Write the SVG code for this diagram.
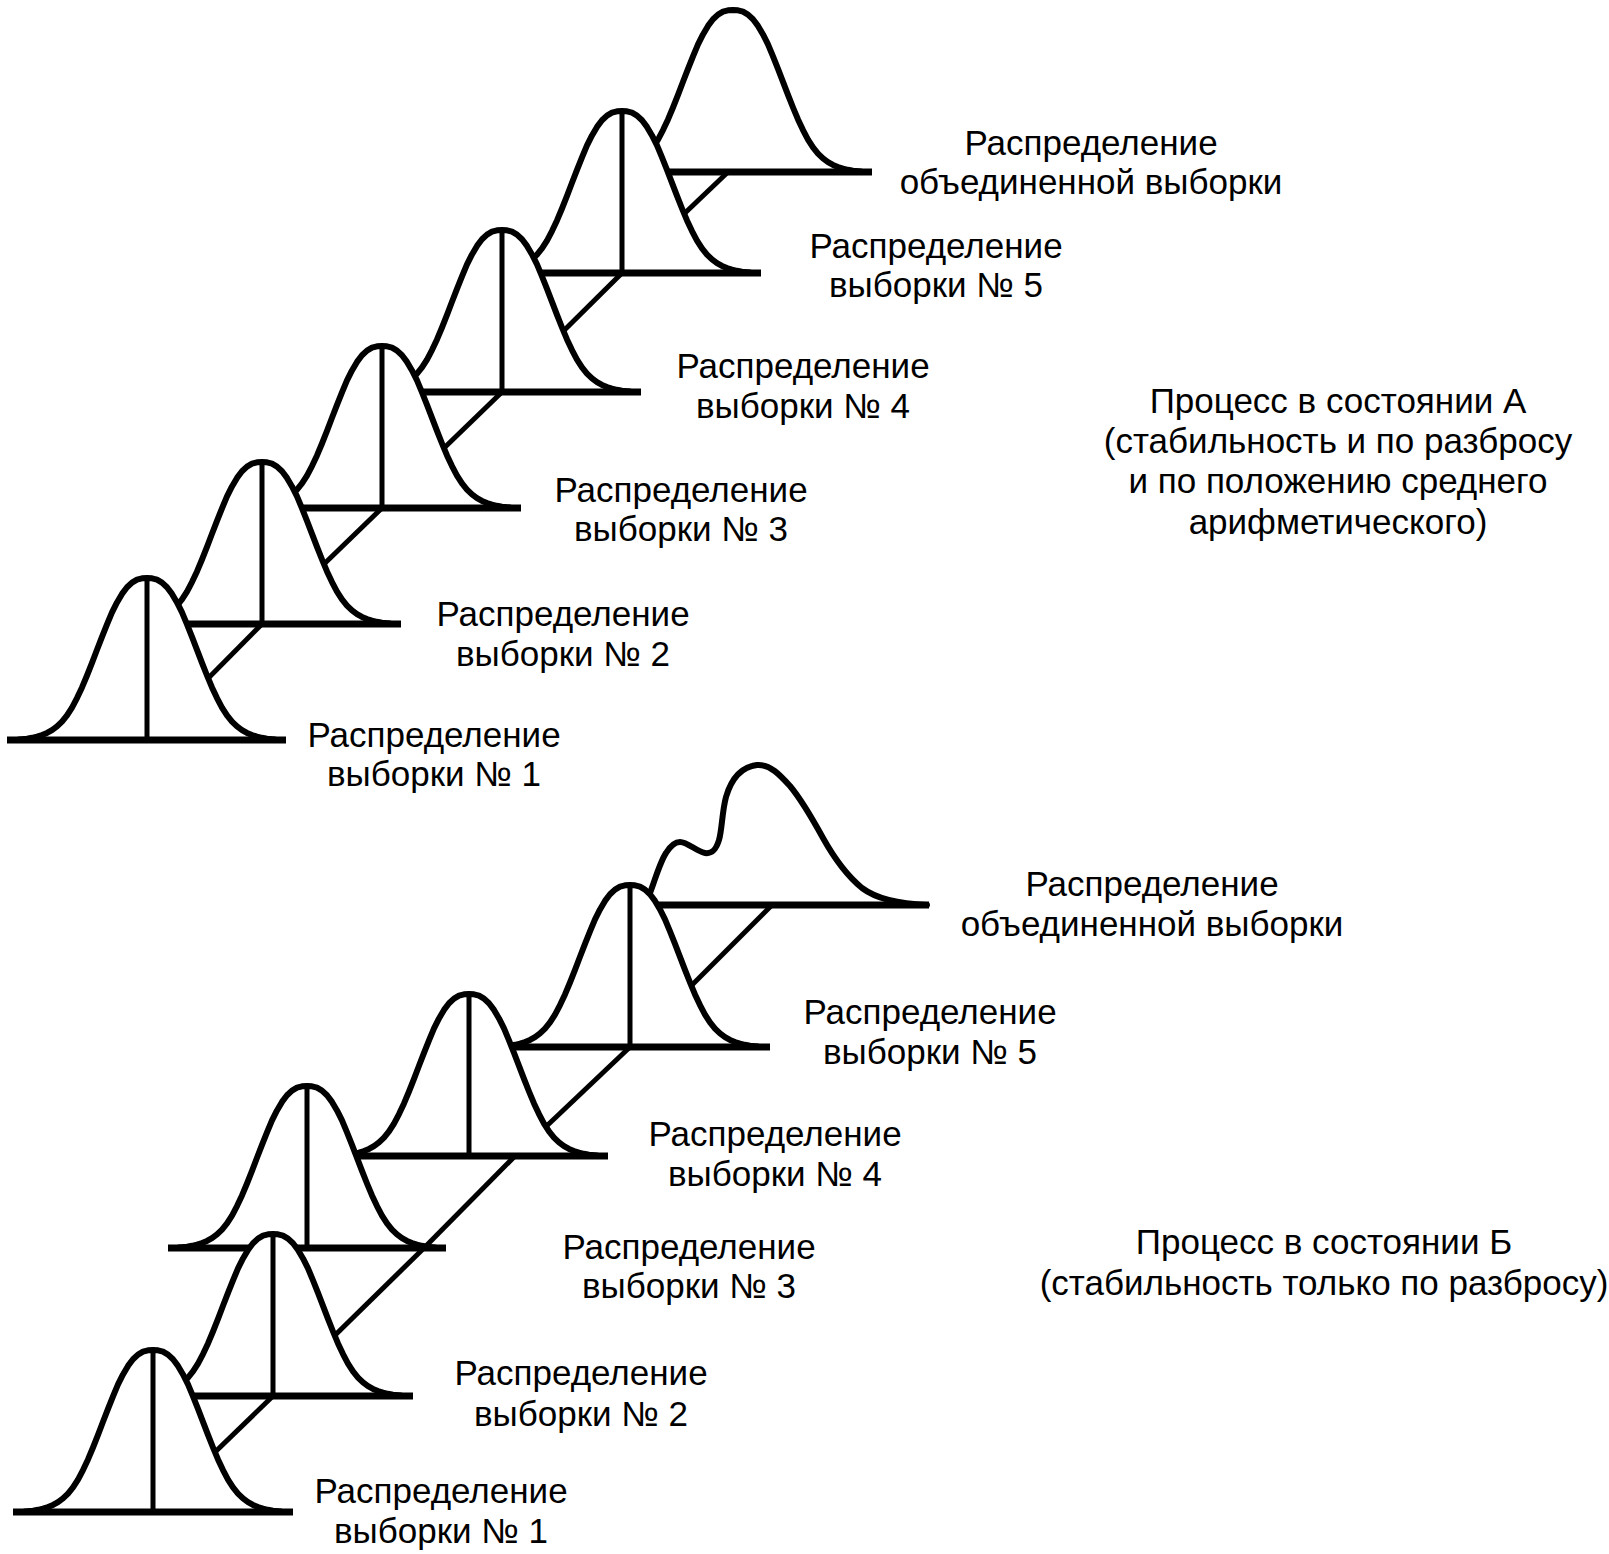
<svg xmlns="http://www.w3.org/2000/svg" width="1609" height="1554" viewBox="0 0 1609 1554">
<style>
.fill{fill:#fff;stroke:none}
.curve{fill:none;stroke:#000;stroke-width:6;stroke-linejoin:round;stroke-linecap:round}
.base{stroke:#000;stroke-width:7}
.vert{stroke:#000;stroke-width:5}
#connectors line{stroke:#000;stroke-width:5}
text{font-family:"Liberation Sans",Arial,sans-serif;font-size:35px;fill:#000;text-anchor:middle}
</style>
<defs>
<path id="bell" d="M-128,-0.4 L-120,-1.3 L-115,-2.2 L-110,-3.4 L-105,-5 L-100,-7.1 L-95,-9.9 L-90,-13.6 L-85,-18.4 L-80,-24.6 L-75,-32.4 L-70,-41.9 L-65,-52.6 L-60,-64.5 L-55,-77.1 L-50,-90.2 L-45,-103.2 L-40,-115.7 L-35,-127.6 L-30,-137.6 L-25,-146.1 L-20,-152.7 L-15,-157.4 L-10,-160.3 L-5,-161.7 L0,-162 L5,-161.7 L10,-160.3 L15,-157.4 L20,-152.7 L25,-146.1 L30,-137.6 L35,-127.6 L40,-115.7 L45,-103.2 L50,-90.2 L55,-77.1 L60,-64.5 L65,-52.6 L70,-41.9 L75,-32.4 L80,-24.6 L85,-18.4 L90,-13.6 L95,-9.9 L100,-7.1 L105,-5 L110,-3.4 L115,-2.2 L120,-1.3 L128,-0.4"/>
<path id="bellFill" d="M-128,-0.4 L-120,-1.3 L-115,-2.2 L-110,-3.4 L-105,-5 L-100,-7.1 L-95,-9.9 L-90,-13.6 L-85,-18.4 L-80,-24.6 L-75,-32.4 L-70,-41.9 L-65,-52.6 L-60,-64.5 L-55,-77.1 L-50,-90.2 L-45,-103.2 L-40,-115.7 L-35,-127.6 L-30,-137.6 L-25,-146.1 L-20,-152.7 L-15,-157.4 L-10,-160.3 L-5,-161.7 L0,-162 L5,-161.7 L10,-160.3 L15,-157.4 L20,-152.7 L25,-146.1 L30,-137.6 L35,-127.6 L40,-115.7 L45,-103.2 L50,-90.2 L55,-77.1 L60,-64.5 L65,-52.6 L70,-41.9 L75,-32.4 L80,-24.6 L85,-18.4 L90,-13.6 L95,-9.9 L100,-7.1 L105,-5 L110,-3.4 L115,-2.2 L120,-1.3 L128,-0.4 L128,0 L-128,0 Z"/>
</defs>
<rect width="1609" height="1554" fill="#fff"/>

<g id="connectors">
<line x1="728" y1="172" x2="622" y2="273"/>
<line x1="622" y1="273" x2="502" y2="392"/>
<line x1="502" y1="392" x2="382" y2="508"/>
<line x1="382" y1="508" x2="262" y2="624"/>
<line x1="262" y1="624" x2="147" y2="740"/>
<line x1="772" y1="905" x2="630" y2="1047"/>
<line x1="630" y1="1047" x2="515" y2="1156"/>
<line x1="515" y1="1156" x2="424" y2="1248"/>
<line x1="424" y1="1248" x2="273" y2="1396"/>
<line x1="273" y1="1396" x2="153" y2="1512"/>
</g>

<g id="a-combined">
<g transform="translate(733,172)">
<use href="#bellFill" class="fill"/>
<line class="base" x1="-140" y1="0" x2="139" y2="0"/>
<use href="#bell" class="curve"/>
</g>
<text x="1091" y="155">Распределение</text>
<text x="1091" y="194">объединенной выборки</text>
</g>

<g id="a5">
<g transform="translate(622,273)">
<use href="#bellFill" class="fill"/>
<line class="base" x1="-140" y1="0" x2="139" y2="0"/>
<line class="vert" x1="0" y1="0" x2="0" y2="-162"/>
<use href="#bell" class="curve"/>
</g>
<text x="936" y="258">Распределение</text>
<text x="936" y="297">выборки № 5</text>
</g>

<g id="a4">
<g transform="translate(502,392)">
<use href="#bellFill" class="fill"/>
<line class="base" x1="-140" y1="0" x2="139" y2="0"/>
<line class="vert" x1="0" y1="0" x2="0" y2="-162"/>
<use href="#bell" class="curve"/>
</g>
<text x="803" y="378">Распределение</text>
<text x="803" y="418">выборки № 4</text>
</g>

<g id="a3">
<g transform="translate(382,508)">
<use href="#bellFill" class="fill"/>
<line class="base" x1="-140" y1="0" x2="139" y2="0"/>
<line class="vert" x1="0" y1="0" x2="0" y2="-162"/>
<use href="#bell" class="curve"/>
</g>
<text x="681" y="502">Распределение</text>
<text x="681" y="541">выборки № 3</text>
</g>

<g id="a2">
<g transform="translate(262,624)">
<use href="#bellFill" class="fill"/>
<line class="base" x1="-140" y1="0" x2="139" y2="0"/>
<line class="vert" x1="0" y1="0" x2="0" y2="-162"/>
<use href="#bell" class="curve"/>
</g>
<text x="563" y="626">Распределение</text>
<text x="563" y="666">выборки № 2</text>
</g>

<g id="a1">
<g transform="translate(147,740)">
<use href="#bellFill" class="fill"/>
<line class="base" x1="-140" y1="0" x2="139" y2="0"/>
<line class="vert" x1="0" y1="0" x2="0" y2="-162"/>
<use href="#bell" class="curve"/>
</g>
<text x="434" y="747">Распределение</text>
<text x="434" y="786">выборки № 1</text>
</g>

<g id="state-a">
<text x="1338" y="413">Процесс в состоянии А</text>
<text x="1338" y="453">(стабильность и по разбросу</text>
<text x="1338" y="493">и по положению среднего</text>
<text x="1338" y="534">арифметического)</text>
</g>

<g id="b-combined">
<path class="fill" d="M636,908 C642,902 647,898 650,893 C655,880 660,862 666,853 C671,845 675,842 680,842 C688,842 697,852 705,853 C712,854 716,850 719,840 C722,830 722,812 726,797 C731,780 740,767 757,765 C770,764 780,775 790,786 C800,798 812,818 823,838 C833,856 845,874 862,888 C878,900 900,904 927,905 Z"/>
<line class="base" x1="615" y1="905" x2="929" y2="905"/>
<path class="curve" d="M636,908 C642,902 647,898 650,893 C655,880 660,862 666,853 C671,845 675,842 680,842 C688,842 697,852 705,853 C712,854 716,850 719,840 C722,830 722,812 726,797 C731,780 740,767 757,765 C770,764 780,775 790,786 C800,798 812,818 823,838 C833,856 845,874 862,888 C878,900 900,904 927,905"/>
<text x="1152" y="896">Распределение</text>
<text x="1152" y="936">объединенной выборки</text>
</g>

<g id="b5">
<g transform="translate(630,1047)">
<use href="#bellFill" class="fill"/>
<line class="base" x1="-140" y1="0" x2="140" y2="0"/>
<line class="vert" x1="0" y1="0" x2="0" y2="-162"/>
<use href="#bell" class="curve"/>
</g>
<text x="930" y="1024">Распределение</text>
<text x="930" y="1064">выборки № 5</text>
</g>

<g id="b4">
<g transform="translate(469,1156)">
<use href="#bellFill" class="fill"/>
<line class="base" x1="-140" y1="0" x2="139" y2="0"/>
<line class="vert" x1="0" y1="0" x2="0" y2="-162"/>
<use href="#bell" class="curve"/>
</g>
<text x="775" y="1146">Распределение</text>
<text x="775" y="1186">выборки № 4</text>
</g>

<g id="b3">
<g transform="translate(307,1248)">
<use href="#bellFill" class="fill"/>
<line class="base" x1="-139" y1="0" x2="139" y2="0"/>
<line class="vert" x1="0" y1="0" x2="0" y2="-162"/>
<use href="#bell" class="curve"/>
</g>
<text x="689" y="1259">Распределение</text>
<text x="689" y="1298">выборки № 3</text>
</g>

<g id="b2">
<g transform="translate(273,1396)">
<use href="#bellFill" class="fill"/>
<line class="base" x1="-140" y1="0" x2="140" y2="0"/>
<line class="vert" x1="0" y1="0" x2="0" y2="-162"/>
<use href="#bell" class="curve"/>
</g>
<text x="581" y="1385">Распределение</text>
<text x="581" y="1426">выборки № 2</text>
</g>

<g id="b1">
<g transform="translate(153,1512)">
<use href="#bellFill" class="fill"/>
<line class="base" x1="-140" y1="0" x2="140" y2="0"/>
<line class="vert" x1="0" y1="0" x2="0" y2="-162"/>
<use href="#bell" class="curve"/>
</g>
<text x="441" y="1503">Распределение</text>
<text x="441" y="1543">выборки № 1</text>
</g>

<g id="state-b">
<text x="1324" y="1254">Процесс в состоянии Б</text>
<text x="1324" y="1295">(стабильность только по разбросу)</text>
</g>
</svg>
